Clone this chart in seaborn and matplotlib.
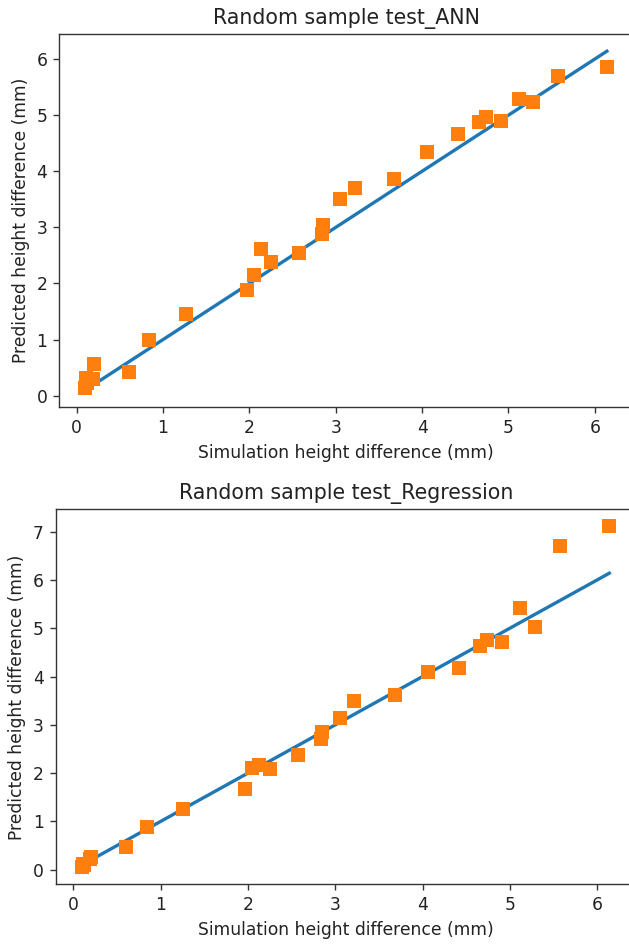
import matplotlib
matplotlib.use("Agg")
import matplotlib.pyplot as plt
import seaborn as sns
import pandas as pd

# Simulated (true) height differences, shared by both panels
sim = [0.10, 0.11, 0.12, 0.19, 0.20, 0.60, 0.84, 1.26, 1.97, 2.05, 2.13, 2.25,
       2.57, 2.84, 2.85, 3.05, 3.22, 3.68, 4.06, 4.42, 4.66, 4.74, 4.91, 5.12,
       5.29, 5.57, 6.14]
# ANN predictions
ann = [0.13, 0.32, 0.22, 0.29, 0.57, 0.43, 0.99, 1.46, 1.88, 2.15, 2.62, 2.39,
       2.55, 2.89, 3.04, 3.50, 3.71, 3.86, 4.35, 4.66, 4.87, 4.97, 4.90, 5.29,
       5.23, 5.69, 5.85]
# Regression predictions
reg = [0.05, 0.12, 0.10, 0.22, 0.26, 0.48, 0.89, 1.26, 1.67, 2.10, 2.17, 2.09,
       2.38, 2.71, 2.86, 3.14, 3.49, 3.61, 4.10, 4.18, 4.63, 4.75, 4.71, 5.42,
       5.03, 6.71, 7.11]

titles = ["Random sample test_ANN", "Random sample test_Regression"]
xlabel = "Simulation height difference (mm)"
ylabel = "Predicted height difference (mm)"

df = pd.DataFrame({"sim": sim, "ann": ann, "reg": reg})

fs = 12.3
plt.rcParams.update({
    "axes.linewidth": 1.0,
    "xtick.major.width": 1.0,
    "ytick.major.width": 1.0,
    "xtick.major.size": 4.3,
    "ytick.major.size": 4.3,
    "xtick.major.pad": 4.3,
    "ytick.major.pad": 4.3,
    "axes.labelpad": 4.9,
    "axes.titlepad": 7.4,
    "axes.edgecolor": "#333333",
})

fig = plt.figure(figsize=(6.29, 9.46), dpi=100)
ax1 = fig.add_axes([0.0943, 0.5698, 0.912, 0.394])
ax2 = fig.add_axes([0.0886, 0.0652, 0.922, 0.3964])

for ax, col, title in [(ax1, "ann", titles[0]), (ax2, "reg", titles[1])]:
    sns.lineplot(data=df, x="sim", y="sim", ax=ax, color="#1f77b4",
                 linewidth=2.4, estimator=None, sort=True)
    sns.scatterplot(data=df, x="sim", y=col, ax=ax, color="#ff7f0e",
                    marker="s", s=90, linewidth=0, zorder=3)
    ax.set_title(title, fontsize=14.8, color="#222222")
    ax.set_xlabel(xlabel, fontsize=fs, color="#222222")
    ax.set_ylabel(ylabel, fontsize=fs, color="#222222")
    ax.tick_params(labelsize=fs, labelcolor="#222222", color="#333333")
    ax.set_xticks(range(0, 7))

ax1.set_yticks(range(0, 7))
ax2.set_yticks(range(0, 8))

fig.savefig("out.png", dpi=100)
